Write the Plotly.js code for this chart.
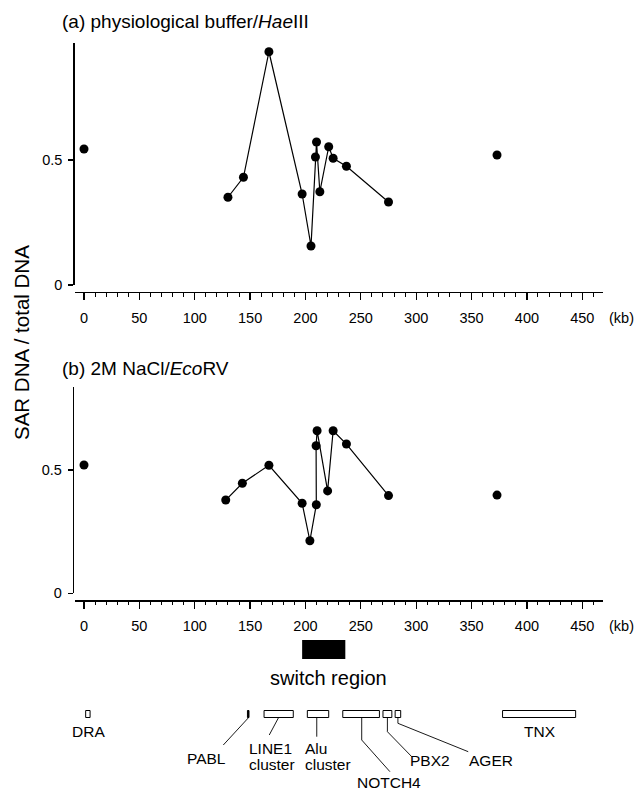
<!DOCTYPE html>
<html><head><meta charset="utf-8">
<script src="https://cdn.plot.ly/plotly-3.0.1.min.js"></script>
<style>html,body{margin:0;padding:0;background:#fff}#chart{width:634px;height:791px}</style>
</head><body><div id="chart"></div>
<script>
// ---- data (kb positions and SAR DNA / total DNA ratios) ----
const kbA = [130, 144, 167, 197, 205, 209, 210, 213, 221, 225, 237, 275];
const sarA = [0.351, 0.431, 0.933, 0.364, 0.156, 0.512, 0.572, 0.373, 0.553, 0.507, 0.475, 0.332];
const kbAsingle = [0, 373];
const sarAsingle = [0.544, 0.52];

const kbB = [128, 143, 167, 197, 204, 209.8, 209.6, 210.5, 220, 225, 237, 275];
const sarB = [0.378, 0.446, 0.519, 0.365, 0.213, 0.359, 0.598, 0.659, 0.415, 0.659, 0.605, 0.396];
const kbBsingle = [0, 373];
const sarBsingle = [0.52, 0.398];

const xTickVals = [0, 50, 100, 150, 200, 250, 300, 350, 400, 450];
const yTickVals = [0, 0.5];
const yTickText = ['0', '0.5'];

const switchStart = 197, switchEnd = 236;

const geneStart = [1.5, 147.6, 162.6, 201.7, 233.7, 270, 281, 378];
const geneEnd   = [5.5, 149.0, 189.0, 221.0, 266.8, 278, 286, 444];
const geneLabel1 = ['DRA', 'PABL', 'LINE1', 'Alu', 'NOTCH4', 'PBX2', 'AGER', 'TNX'];
const geneLabel2 = ['', '', 'cluster', 'cluster', '', '', '', ''];
const geneLabelKb = [3.9, 110.8, 147, 197.5, 275.4, 312.5, 368, 412];
const leaderKb = [[], [148.3, 125.8], [175.5, 167.3], [210.2, 210.2], [250.8, 250.8, 276.3], [274, 274, 296], [283.5, 283.5, 347], []];

// ---- layout helpers (pixel geometry) ----
const W = 634, H = 791;
const PX_PER_KB = 1.1073, X0 = 84;
const kbAt = p => (p - X0) / PX_PER_KB;
const px = p => p / W;
const py = p => 1 - p / H;
const xRange = [kbAt(75), kbAt(603)];
const xDomain = [px(75), px(603)];
const font = 'Liberation Sans, Arial, Helvetica, sans-serif';

// layout rows (pixels below y=632) on the gene-map axis
const ROW0 = 632;
const leaderRow = [[], [86, 113], [86, 103], [86, 104.7], [86, 108, 139.7], [86, 99.7, 124.7], [86, 91.3, 119.7], []];
const labelRow1 = [99, 126, 116, 116, 150, 128, 128, 99];
const labelRow2 = [0, 0, 132, 132, 0, 0, 0, 0];
const labelAnchor = ['center', 'center', 'left', 'left', 'center', 'center', 'center', 'center'];

function xAxis(posPx) {
  return {
    domain: xDomain, range: xRange, anchor: 'free', position: py(posPx),
    showline: true, linecolor: '#000', linewidth: 1.6, mirror: false,
    showgrid: false, zeroline: false,
    ticks: 'outside', ticklen: 7, tickwidth: 1.3, tickcolor: '#000',
    tickvals: xTickVals, ticktext: xTickVals.map(String),
    minor: { dtick: 10, tick0: 0, ticks: 'outside', ticklen: 3.5, tickwidth: 1, tickcolor: '#000', showgrid: false },
    tickfont: { family: font, size: 14.5, color: '#000' },
    ticklabelstandoff: 5, fixedrange: true
  };
}
function yAxis(topPx, zeroPx, pxPerUnit, posPx) {
  return {
    domain: [py(zeroPx), py(topPx)], range: [0, (zeroPx - topPx) / pxPerUnit],
    anchor: 'free', position: px(posPx),
    showline: true, linecolor: '#000', linewidth: 1.6,
    showgrid: false, zeroline: false,
    ticks: 'outside', ticklen: 5, tickwidth: 1.3, tickcolor: '#000',
    tickvals: yTickVals, ticktext: yTickText,
    tickfont: { family: font, size: 14.5, color: '#000' },
    ticklabelstandoff: 3, fixedrange: true
  };
}

const mk = { color: '#000', size: 9 };
const traces = [
  { x: kbA, y: sarA, xaxis: 'x', yaxis: 'y', mode: 'lines+markers', marker: mk, line: { color: '#000', width: 1.2 }, cliponaxis: false },
  { x: kbAsingle, y: sarAsingle, xaxis: 'x', yaxis: 'y', mode: 'markers', marker: mk, cliponaxis: false },
  { x: kbB, y: sarB, xaxis: 'x2', yaxis: 'y2', mode: 'lines+markers', marker: mk, line: { color: '#000', width: 1.2 }, cliponaxis: false },
  { x: kbBsingle, y: sarBsingle, xaxis: 'x2', yaxis: 'y2', mode: 'markers', marker: mk, cliponaxis: false }
];

// leader lines
const lx = [], ly = [];
leaderKb.forEach((xs, i) => { if (!xs.length) return; xs.forEach((v, j) => { lx.push(v); ly.push(leaderRow[i][j]); }); lx.push(null); ly.push(null); });
traces.push({ x: lx, y: ly, xaxis: 'x3', yaxis: 'y3', mode: 'lines', line: { color: '#000', width: 0.9 }, cliponaxis: false, connectgaps: false });

const shapes = [];
shapes.push({ type: 'rect', xref: 'x3', yref: 'y3', x0: switchStart, x1: switchEnd, y0: 8, y1: 27, fillcolor: '#000', line: { width: 0 } });
geneStart.forEach((s, i) => {
  const narrow = geneEnd[i] - s < 3;
  shapes.push({ type: 'rect', xref: 'x3', yref: 'y3', x0: s, x1: geneEnd[i], y0: 78.5, y1: 85.5,
    fillcolor: narrow ? '#000' : '#fff', line: { color: '#000', width: 1 } });
});

const ann = [];
ann.push({ xref: 'paper', yref: 'paper', x: px(60), y: py(22), xanchor: 'left', yanchor: 'middle', showarrow: false,
  text: '(a) physiological buffer/<i>Hae</i>III', font: { family: font, size: 19, color: '#000' } });
ann.push({ xref: 'paper', yref: 'paper', x: px(60), y: py(369), xanchor: 'left', yanchor: 'middle', showarrow: false,
  text: '(b) 2M NaCl/<i>Eco</i>RV', font: { family: font, size: 19, color: '#000' } });
ann.push({ xref: 'paper', yref: 'paper', x: px(21), y: py(343), xanchor: 'center', yanchor: 'middle', showarrow: false,
  textangle: -90, text: 'SAR DNA / total DNA', font: { family: font, size: 20.5, color: '#000' } });
[317.5, 626].forEach(yy => ann.push({ xref: 'paper', yref: 'paper', x: px(621), y: py(yy), xanchor: 'center', yanchor: 'middle',
  showarrow: false, text: '(kb)', font: { family: font, size: 14.5, color: '#000' } }));
ann.push({ xref: 'x3', yref: 'y3', x: (switchStart + switchEnd) / 2 + 4, y: 46, xanchor: 'center', yanchor: 'middle', showarrow: false,
  text: 'switch region', font: { family: font, size: 20, color: '#000' } });
geneLabel1.forEach((t, i) => {
  ann.push({ xref: 'x3', yref: 'y3', x: geneLabelKb[i], y: labelRow1[i], xanchor: labelAnchor[i], yanchor: 'middle', showarrow: false,
    text: t, font: { family: font, size: 15.5, color: '#000' } });
  if (geneLabel2[i]) ann.push({ xref: 'x3', yref: 'y3', x: geneLabelKb[i], y: labelRow2[i], xanchor: labelAnchor[i], yanchor: 'middle', showarrow: false,
    text: geneLabel2[i], font: { family: font, size: 15.5, color: '#000' } });
});

const layout = {
  width: W, height: H, margin: { l: 0, r: 0, t: 0, b: 0 },
  paper_bgcolor: '#fff', plot_bgcolor: 'rgba(0,0,0,0)', showlegend: false,
  xaxis: xAxis(291.5),
  yaxis: yAxis(43, 285, 250, 73.3),
  xaxis2: xAxis(600),
  yaxis2: yAxis(386.7, 593.3, 246.7, 72.7),
  xaxis3: { domain: xDomain, range: xRange, visible: false, anchor: 'y3', fixedrange: true },
  yaxis3: { domain: [0, py(ROW0)], range: [H - ROW0, 0], visible: false, anchor: 'x3', fixedrange: true },
  shapes: shapes, annotations: ann
};

Plotly.newPlot('chart', traces, layout, { staticPlot: true, displayModeBar: false });
</script>
</body></html>
